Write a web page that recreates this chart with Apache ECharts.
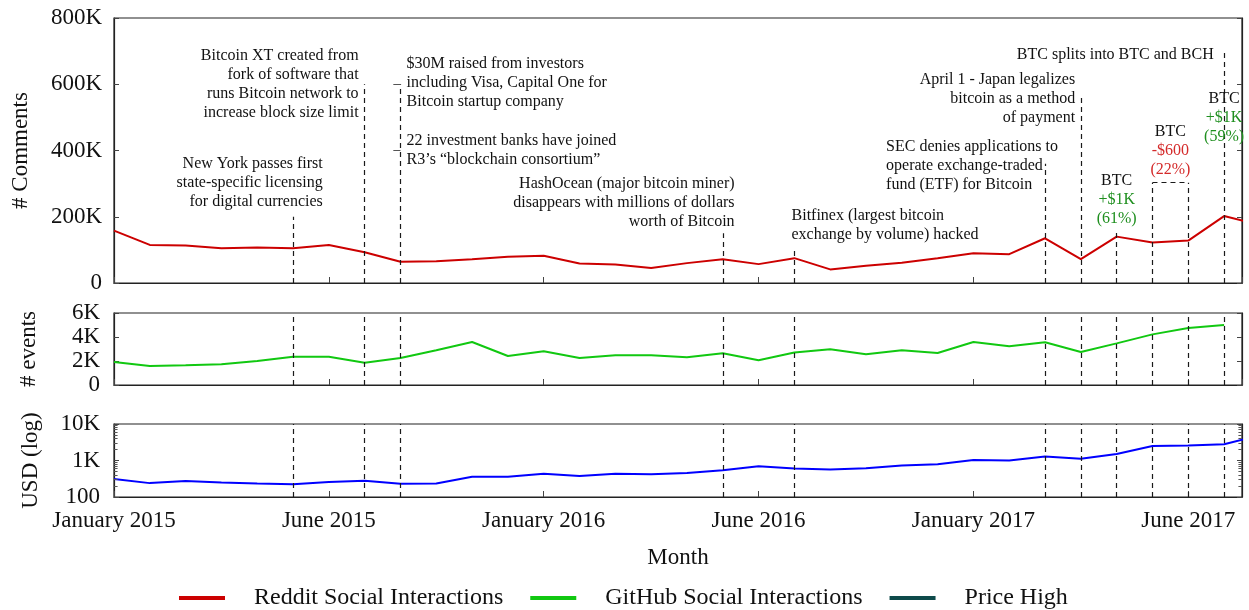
<!DOCTYPE html>
<html><head><meta charset="utf-8">
<script src="https://cdn.jsdelivr.net/npm/echarts@6/dist/echarts.min.js"></script>
<style>html,body{margin:0;padding:0;background:#fff}#c{width:1249px;height:610px}</style>
</head><body><div id="c"></div><script>
// ---- data ----
const xTickLabels = ['January 2015','June 2015','January 2016','June 2016','January 2017','June 2017'];
const reddit = [158000,115000,113000,105000,107000,105000,115000,93000,64000,66000,72000,79000,82000,59000,56000,45000,60000,72000,57000,75000,41000,52000,61000,75000,90000,87000,135000,72000,140000,122000,128000,202000,175000];
const github = [1920,1580,1640,1720,2000,2360,2360,1860,2250,2890,3580,2420,2810,2250,2470,2470,2310,2640,2060,2700,2970,2560,2890,2670,3580,3220,3560,2750,3470,4220,4750,5000];
const price = [310,240,273,251,235,225,256,278,230,235,359,359,435,376,435,420,455,540,700,600,565,615,725,795,1025,1000,1290,1115,1510,2500,2560,2780,4900];
const eventIdx = [5,7,8,17,19,26,27,28,29,30,31];
const eventTop = [200000,600000,600000,150000,105000,360000,560000,160000,303000,303000,695000];
const logMinorTicks = [200,300,400,500,600,700,800,900,2000,3000,4000,5000,6000,7000,8000,9000];
const annText = [
  'New York passes first\nstate-specific licensing\nfor digital currencies',
  'Bitcoin XT created from\nfork of software that\nruns Bitcoin network to\nincrease block size limit',
  '$30M raised from investors\nincluding Visa, Capital One for\nBitcoin startup company',
  '22 investment banks have joined\nR3\u2019s \u201cblockchain consortium\u201d',
  'HashOcean (major bitcoin miner)\ndisappears with millions of dollars\nworth of Bitcoin',
  'Bitfinex (largest bitcoin\nexchange by volume) hacked',
  'SEC denies applications to\noperate exchange-traded\nfund (ETF) for Bitcoin',
  'April 1 - Japan legalizes\nbitcoin as a method\nof payment',
  'BTC splits into BTC and BCH',
  '{k|BTC}\n{g|+$1K}\n{g|(61%)}',
  '{k|BTC}\n{r|-$600}\n{r|(22%)}',
  '{k|BTC}\n{g|+$1K}\n{g|(59%)}'
];
const annX = [5.83,6.83,8.17,8.17,17.33,18.92,21.56,26.84,30.71,28,29.5,31];
const annY = [302000,600000,604000,400000,242000,174000,354000,556000,689000,251000,399000,498000];
const annAlign = ['right','right','left','left','right','left','left','right','right','center','center','center'];

// ---- chart ----
const FONT = "'Liberation Serif','DejaVu Serif',serif";
const TXT = '#111';
const XMIN = 0, XMAX = 31.5;
const idx = a => a.map((v,i)=>[i,v]);
const kfmt = v => v === 0 ? '0' : (v >= 1000 ? (v/1000)+'K' : String(v));
const dash = {color:'#1a1a1a', type:[5,4], width:1.2};

const grids = [
  {left:114, right:7, top:18, height:265},
  {left:114, right:7, top:313, height:72},
  {left:114, right:7, top:424, height:73}
].map(g => Object.assign(g, {show:true, borderColor:'#222', borderWidth:1.2, backgroundColor:'transparent'}));

function xAx(i, showLabels) {
  return {
    type:'value', gridIndex:i, min:XMIN, max:XMAX, interval:6,
    axisLine:{show:true, lineStyle:{color:'#222', width:1.2}},
    axisTick:{show:true, inside:true, length:6, lineStyle:{color:'#444'}},
    splitLine:{show:false},
    axisLabel:{show:showLabels, margin:12, fontFamily:FONT, fontSize:23, color:TXT,
      formatter: v => xTickLabels[Math.round(v/6)] || ''},
    name: showLabels ? 'Month' : '', nameLocation:'middle', nameGap:49,
    nameTextStyle:{fontFamily:FONT, fontSize:23, color:TXT}
  };
}
function yAx(i, cfg, name, gap, margin) {
  const base = Object.assign({gridIndex:i, splitLine:{show:false},
    axisLine:{show:true, lineStyle:{color:'#222', width:1.2}},
    axisTick:{show:true, inside:true, length:5, lineStyle:{color:'#444'}}}, cfg);
  const left = Object.assign({}, base, {position:'left',
    axisLabel:{margin:margin, fontFamily:FONT, fontSize:23, color:TXT, formatter:kfmt},
    name:name, nameLocation:'middle', nameGap:gap, nameRotate:90,
    nameTextStyle:{fontFamily:FONT, fontSize:23, color:TXT}});
  const right = Object.assign({}, base, {position:'right', axisLabel:{show:false}});
  return [left, right];
}

const yAxes = [].concat(
  yAx(0, {type:'value', min:0, max:800000, interval:200000}, '# Comments', 82, 12),
  yAx(1, {type:'value', min:0, max:6000, interval:2000}, '# events', 74, 14),
  yAx(2, {type:'log', logBase:10, min:100, max:10000}, 'USD (log)', 72, 14)
);

const tickSolid = {lineStyle:{type:'solid', color:'#555', width:1}};
const topLines = eventIdx.map((x,i)=>[{coord:[x,0]},{coord:[x,eventTop[i]]}]);
topLines.push([{coord:[29,303000]},{coord:[30,303000]}]);
topLines.push([Object.assign({coord:[7.8,600000]}, tickSolid),{coord:[8,600000]}]);
topLines.push([Object.assign({coord:[7.8,400000]}, tickSolid),{coord:[8,400000]}]);

const midLines = eventIdx.map(x=>[{coord:[x,0]},{coord:[x,6000]}]);
const botLines = eventIdx.map(x=>[{coord:[x,100]},{coord:[x,10000]}]);
logMinorTicks.forEach(v=>{
  botLines.push([Object.assign({coord:[XMIN,v]}, tickSolid),{coord:[XMIN+0.1,v]}]);
  botLines.push([Object.assign({coord:[XMAX-0.1,v]}, tickSolid),{coord:[XMAX,v]}]);
});

function ml(data){ return {silent:true, symbol:['none','none'], label:{show:false}, lineStyle:dash, animation:false, data:data}; }

const rich = {
  k:{color:TXT, fontFamily:FONT, fontSize:16, lineHeight:19},
  g:{color:'#1f8f1f', fontFamily:FONT, fontSize:16, lineHeight:19},
  r:{color:'#d42a2a', fontFamily:FONT, fontSize:16, lineHeight:19}
};
const annPoints = annText.map((t,i)=>({
  coord:[annX[i], annY[i]], symbol:'circle', symbolSize:1,
  itemStyle:{color:'rgba(0,0,0,0)'},
  label:{show:true, position:'inside', formatter:t, align:annAlign[i], verticalAlign:'middle',
    color:TXT, fontFamily:FONT, fontSize:16, lineHeight:19, rich:rich}
}));

const option = {
  animation:false,
  backgroundColor:'#fff',
  grid:grids,
  xAxis:[xAx(0,false), xAx(1,false), xAx(2,true)],
  yAxis:yAxes,
  legend:{
    left:174, top:581, itemWidth:46, itemHeight:4, icon:'rect', itemGap:27,
    textStyle:{fontFamily:FONT, fontSize:24, color:TXT, padding:[0,0,0,24]},
    data:[
      {name:'Reddit Social Interactions'},
      {name:'GitHub Social Interactions'},
      {name:'Price High', itemStyle:{color:'#0e4a4a'}}
    ]
  },
  series:[
    {name:'Reddit Social Interactions', type:'line', xAxisIndex:0, yAxisIndex:0, data:idx(reddit),
      showSymbol:false, symbol:'none', color:'#cc0000', lineStyle:{width:2, color:'#cc0000'}, clip:true, z:3,
      markLine:ml(topLines),
      markPoint:{silent:true, animation:false, data:annPoints}},
    {name:'GitHub Social Interactions', type:'line', xAxisIndex:1, yAxisIndex:2, data:idx(github),
      showSymbol:false, symbol:'none', color:'#11c811', lineStyle:{width:2, color:'#11c811'}, clip:true, z:3,
      markLine:ml(midLines)},
    {name:'Price High', type:'line', xAxisIndex:2, yAxisIndex:4, data:idx(price),
      showSymbol:false, symbol:'none', color:'#0000ff', lineStyle:{width:2, color:'#0000ff'}, clip:true, z:3,
      markLine:ml(botLines)}
  ]
};
const chart = echarts.init(document.getElementById('c'), null, {renderer:'canvas'});
chart.setOption(option);
</script></body></html>
